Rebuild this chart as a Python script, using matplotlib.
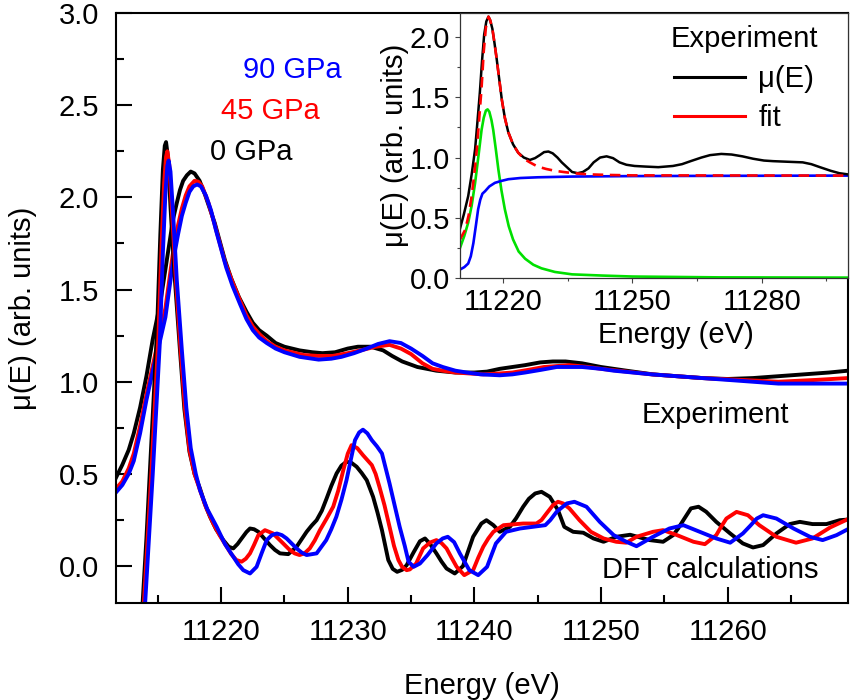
import matplotlib
matplotlib.use("Agg")
import matplotlib.pyplot as plt
from matplotlib.lines import Line2D
from matplotlib.ticker import MultipleLocator, FormatStrFormatter

plt.rcParams['font.family'] = ['Liberation Sans', 'DejaVu Sans']
plt.rcParams['font.size'] = 21

# ---- main panel: experiment (0, 45, 90 GPa) ----
exp0_E = [11211.7, 11212.2, 11212.7, 11213.1, 11213.6, 11214.1, 11214.6, 11215.2, 11215.8, 11216.2,
          11216.5, 11216.75, 11217.0, 11217.3, 11217.6, 11217.9, 11218.3, 11218.7, 11219.1, 11219.5,
          11219.9, 11220.3, 11220.8, 11221.4, 11222.0, 11222.5, 11223.0, 11223.6, 11224.3, 11225.0,
          11226.2, 11227.2, 11228.0, 11229.0, 11230.0, 11230.8, 11231.8, 11232.8, 11233.5, 11234.3,
          11235.5, 11237.0, 11238.5, 11240.0, 11241.0, 11242.0, 11244.0, 11245.2, 11246.2, 11247.2,
          11248.5, 11250.0, 11252.0, 11254.1, 11256.0, 11258.0, 11260.0, 11262.0, 11264.0, 11266.0,
          11268.0, 11269.5]
exp0_mu = [0.48, 0.55, 0.63, 0.72, 0.86, 1.03, 1.23, 1.43, 1.70, 1.88,
           1.97, 2.04, 2.09, 2.12, 2.14, 2.13, 2.09, 2.02, 1.94, 1.86,
           1.76, 1.66, 1.56, 1.46, 1.38, 1.32, 1.28, 1.25, 1.21, 1.19,
           1.17, 1.16, 1.155, 1.16, 1.18, 1.19, 1.19, 1.17, 1.14, 1.11,
           1.08, 1.06, 1.05, 1.05, 1.055, 1.07, 1.09, 1.105, 1.11, 1.11,
           1.10, 1.08, 1.06, 1.04, 1.03, 1.02, 1.015, 1.02, 1.03, 1.04,
           1.05, 1.06]

exp45_E = [11211.7, 11212.2, 11212.7, 11213.1, 11213.6, 11214.1, 11214.8, 11215.2, 11215.6, 11215.9,
           11216.2, 11216.6, 11216.9, 11217.2, 11217.5, 11217.9, 11218.2, 11218.5, 11219.0, 11219.5,
           11219.9, 11220.3, 11220.9, 11221.5, 11222.0, 11222.5, 11223.0, 11223.6, 11224.3, 11225.0,
           11226.5, 11227.6, 11228.8, 11230.0, 11231.0, 11232.2, 11233.3, 11234.2, 11235.0, 11235.9,
           11236.7, 11237.5, 11238.5, 11240.7, 11242.0, 11243.0, 11244.3, 11245.5, 11247.5, 11249.0,
           11250.0, 11252.0, 11254.0, 11256.0, 11258.0, 11261.0, 11264.0, 11267.0, 11269.5]
exp45_mu = [0.42, 0.46, 0.53, 0.61, 0.76, 0.93, 1.15, 1.27, 1.40, 1.55,
            1.70, 1.85, 1.94, 2.01, 2.06, 2.09, 2.085, 2.06, 1.97, 1.85,
            1.75, 1.65, 1.54, 1.44, 1.36, 1.30, 1.26, 1.22, 1.19, 1.17,
            1.145, 1.14, 1.14, 1.155, 1.17, 1.19, 1.20, 1.18, 1.15, 1.10,
            1.07, 1.06, 1.05, 1.04, 1.045, 1.05, 1.065, 1.08, 1.09, 1.08,
            1.07, 1.055, 1.04, 1.03, 1.02, 1.01, 1.00, 1.01, 1.02]

exp90_E = [11211.7, 11212.2, 11212.7, 11213.1, 11213.6, 11214.1, 11214.8, 11215.2, 11215.6, 11215.9,
           11216.2, 11216.6, 11216.9, 11217.2, 11217.5, 11217.8, 11218.1, 11218.4, 11218.8, 11219.2,
           11219.6, 11220.0, 11220.4, 11220.9, 11221.5, 11222.0, 11222.5, 11223.0, 11223.6, 11224.3,
           11225.0, 11226.2, 11227.7, 11228.7, 11229.5, 11230.5, 11231.5, 11232.4, 11233.3, 11234.2,
           11235.0, 11235.9, 11236.7, 11237.5, 11238.5, 11239.4, 11240.5, 11242.0, 11243.0, 11244.0,
           11245.3, 11246.5, 11248.5, 11250.0, 11251.0, 11254.0, 11256.0, 11258.0, 11261.0, 11264.0,
           11267.0, 11269.5]
exp90_mu = [0.40, 0.44, 0.50, 0.57, 0.72, 0.90, 1.12, 1.23, 1.35, 1.50,
            1.65, 1.80, 1.90, 1.97, 2.03, 2.06, 2.07, 2.06, 2.01, 1.93,
            1.82, 1.72, 1.62, 1.52, 1.42, 1.34, 1.28, 1.24, 1.21, 1.18,
            1.16, 1.135, 1.12, 1.125, 1.135, 1.155, 1.18, 1.205, 1.22, 1.21,
            1.18, 1.14, 1.10, 1.08, 1.06, 1.05, 1.04, 1.035, 1.04, 1.05,
            1.065, 1.08, 1.08, 1.07, 1.06, 1.04, 1.03, 1.02, 1.005, 0.99,
            0.99, 0.99]

# ---- main panel: DFT calculations ----
dft0_E = [11213.5, 11213.8, 11214.1, 11214.4, 11214.7, 11214.95, 11215.2, 11215.4, 11215.55, 11215.65,
          11215.8, 11216.0, 11216.3, 11216.75, 11217.1, 11217.5, 11217.9, 11218.33, 11218.7, 11219.12,
          11219.6, 11220.17, 11220.6, 11220.96, 11221.3, 11221.62, 11222.0, 11222.28, 11222.6, 11222.94,
          11223.4, 11223.86, 11224.25, 11224.65, 11225.3, 11225.96, 11226.35, 11226.75, 11227.15, 11227.54,
          11227.95, 11228.33, 11228.7, 11229.12, 11229.5, 11229.9, 11230.3, 11230.7, 11231.1, 11231.5,
          11232.0, 11232.35, 11232.7, 11233.2, 11233.55, 11233.9, 11234.3, 11234.65, 11235.2, 11235.7,
          11236.1, 11236.5, 11237.0, 11237.4, 11237.8, 11238.45, 11239.1, 11239.5, 11239.9, 11240.55,
          11240.95, 11241.5, 11242.0, 11242.8, 11243.3, 11243.85, 11244.3, 11244.8, 11245.3, 11245.95,
          11246.6, 11247.1, 11247.8, 11248.6, 11249.4, 11250.2, 11251.2, 11252.3, 11253.85, 11254.9,
          11255.7, 11256.1, 11256.5, 11257.1, 11257.7, 11258.3, 11259.1, 11260.2, 11261.2, 11262.0,
          11262.8, 11263.85, 11264.9, 11265.7, 11266.7, 11267.8, 11268.85, 11269.6]
dft0_mu = [-0.45, -0.2, 0.15, 0.55, 0.95, 1.3, 1.8, 2.15, 2.28, 2.30,
           2.22, 1.95, 1.6, 1.17, 0.85, 0.62, 0.50, 0.421, 0.34, 0.268,
           0.20, 0.141, 0.105, 0.096, 0.12, 0.150, 0.185, 0.204, 0.200, 0.186,
           0.150, 0.114, 0.088, 0.069, 0.065, 0.105, 0.145, 0.186, 0.220, 0.249,
           0.300, 0.367, 0.435, 0.503, 0.545, 0.566, 0.560, 0.539, 0.505, 0.466,
           0.376, 0.290, 0.195, 0.033, -0.015, -0.031, -0.020, 0.005, 0.075, 0.135,
           0.150, 0.120, 0.069, 0.025, -0.013, -0.040, 0.0, 0.080, 0.159, 0.231,
           0.249, 0.222, 0.186, 0.213, 0.260, 0.322, 0.365, 0.394, 0.403, 0.376,
           0.304, 0.213, 0.186, 0.181, 0.150, 0.132, 0.159, 0.170, 0.141, 0.132,
           0.168, 0.205, 0.249, 0.313, 0.322, 0.295, 0.240, 0.177, 0.123, 0.101,
           0.114, 0.177, 0.228, 0.240, 0.228, 0.228, 0.249, 0.253]

dft45_E = [11213.6, 11213.9, 11214.2, 11214.5, 11214.8, 11215.05, 11215.3, 11215.5, 11215.65, 11215.75,
           11215.9, 11216.1, 11216.4, 11216.8, 11217.15, 11217.5, 11217.9, 11218.33, 11218.8, 11219.38,
           11219.9, 11220.44, 11220.8, 11221.2, 11221.62, 11221.95, 11222.28, 11222.6, 11222.94, 11223.46,
           11224.1, 11224.5, 11224.9, 11225.35, 11225.8, 11226.2, 11226.6, 11227.0, 11227.4, 11227.8,
           11228.35, 11228.85, 11229.25, 11229.65, 11230.0, 11230.3, 11230.75, 11231.2, 11231.9, 11232.2,
           11232.5, 11232.9, 11233.3, 11233.65, 11234.0, 11234.3, 11234.65, 11234.9, 11235.4, 11235.95,
           11236.5, 11237.0, 11237.4, 11237.8, 11238.2, 11238.6, 11239.2, 11239.9, 11240.3, 11240.7,
           11241.1, 11241.5, 11242.3, 11243.85, 11244.9, 11245.3, 11245.7, 11246.2, 11246.6, 11247.0,
           11247.5, 11248.3, 11249.2, 11250.2, 11251.2, 11252.0, 11252.8, 11254.1, 11254.9, 11256.0,
           11257.3, 11258.2, 11259.1, 11259.5, 11259.9, 11260.7, 11261.6, 11262.5, 11263.85, 11265.4,
           11266.7, 11268.1, 11269.6]
dft45_mu = [-0.45, -0.2, 0.15, 0.52, 0.92, 1.25, 1.75, 2.08, 2.22, 2.25,
            2.18, 1.95, 1.58, 1.17, 0.85, 0.63, 0.50, 0.412, 0.32, 0.231,
            0.165, 0.105, 0.065, 0.033, 0.024, 0.040, 0.069, 0.115, 0.168, 0.195,
            0.177, 0.150, 0.123, 0.092, 0.069, 0.060, 0.070, 0.096, 0.140, 0.195,
            0.260, 0.322, 0.410, 0.521, 0.610, 0.656, 0.640, 0.602, 0.548, 0.500,
            0.430, 0.330, 0.213, 0.110, 0.033, -0.005, -0.022, -0.018, 0.014, 0.096,
            0.128, 0.141, 0.125, 0.096, 0.045, -0.004, -0.049, -0.022, 0.045, 0.105,
            0.150, 0.186, 0.222, 0.231, 0.231, 0.250, 0.286, 0.330, 0.349, 0.340,
            0.313, 0.249, 0.186, 0.150, 0.132, 0.127, 0.159, 0.186, 0.195, 0.168,
            0.132, 0.119, 0.168, 0.215, 0.258, 0.294, 0.276, 0.222, 0.159, 0.127,
            0.150, 0.210, 0.258]

dft90_E = [11213.7, 11214.0, 11214.3, 11214.6, 11214.9, 11215.15, 11215.4, 11215.6, 11215.75, 11215.85,
           11216.0, 11216.2, 11216.5, 11216.9, 11217.25, 11217.6, 11218.0, 11218.33, 11218.9, 11219.65,
           11220.3, 11220.96, 11221.35, 11221.75, 11222.28, 11222.8, 11223.2, 11223.6, 11224.0, 11224.4,
           11224.8, 11225.17, 11225.96, 11226.35, 11226.75, 11227.54, 11228.3, 11228.7, 11229.1, 11229.5,
           11229.9, 11230.25, 11230.57, 11230.9, 11231.2, 11231.55, 11231.9, 11232.3, 11232.7, 11233.3,
           11233.7, 11234.1, 11234.5, 11234.8, 11235.2, 11235.7, 11236.3, 11237.0, 11237.5, 11237.9,
           11238.4, 11238.85, 11239.6, 11240.3, 11241.0, 11241.35, 11241.7, 11242.5, 11243.6, 11244.6,
           11245.6, 11246.0, 11246.5, 11247.3, 11247.9, 11248.85, 11249.9, 11251.0, 11252.0, 11252.8,
           11254.1, 11255.4, 11256.5, 11257.8, 11259.1, 11260.2, 11261.2, 11261.8, 11262.3, 11262.8,
           11263.85, 11265.2, 11266.5, 11267.5, 11268.6, 11269.6]
dft90_mu = [-0.45, -0.2, 0.15, 0.50, 0.88, 1.2, 1.7, 2.02, 2.17, 2.20,
            2.14, 1.92, 1.55, 1.17, 0.86, 0.64, 0.50, 0.412, 0.31, 0.213,
            0.120, 0.051, 0.010, -0.022, -0.040, -0.004, 0.070, 0.141, 0.168, 0.177,
            0.168, 0.150, 0.096, 0.074, 0.060, 0.069, 0.141, 0.200, 0.268, 0.360,
            0.466, 0.580, 0.683, 0.725, 0.740, 0.720, 0.683, 0.650, 0.611, 0.448,
            0.330, 0.213, 0.110, 0.024, -0.004, 0.014, 0.060, 0.123, 0.150, 0.159,
            0.130, 0.069, -0.022, -0.049, -0.004, 0.060, 0.123, 0.186, 0.204, 0.213,
            0.222, 0.250, 0.295, 0.340, 0.349, 0.322, 0.240, 0.168, 0.132, 0.108,
            0.159, 0.204, 0.222, 0.186, 0.150, 0.127, 0.177, 0.220, 0.258, 0.276,
            0.258, 0.204, 0.159, 0.141, 0.168, 0.204]

# ---- inset: experiment, fit and its two components ----
in_mu_E = [11210.0, 11210.9, 11211.9, 11212.7, 11213.5, 11214.0, 11214.6, 11215.1, 11215.6, 11216.1,
           11216.6, 11217.0, 11217.5, 11218.0, 11218.5, 11219.1, 11219.7, 11220.4, 11221.2, 11222.3,
           11223.5, 11224.8, 11226.2, 11227.4, 11228.5, 11229.5, 11230.5, 11231.5, 11232.6, 11233.6,
           11234.8, 11236.0, 11237.3, 11238.5, 11239.8, 11241.0, 11242.5, 11244.0, 11245.5, 11247.0,
           11248.6, 11250.5, 11253.0, 11256.0, 11259.4, 11261.5, 11263.5, 11266.0, 11268.0, 11270.6,
           11273.0, 11275.5, 11278.0, 11280.5, 11282.6, 11286.0, 11289.5, 11291.5, 11293.5, 11296.0,
           11298.0, 11300.0]
in_mu = [0.41, 0.53, 0.68, 0.86, 1.07, 1.28, 1.54, 1.80, 2.02, 2.13,
         2.17, 2.14, 2.07, 1.95, 1.82, 1.65, 1.48, 1.33, 1.21, 1.11,
         1.04, 1.00, 0.98, 0.995, 1.02, 1.045, 1.05, 1.035, 1.00, 0.96,
         0.92, 0.88, 0.87, 0.88, 0.91, 0.96, 1.00, 1.01, 0.995, 0.96,
         0.94, 0.93, 0.925, 0.92, 0.93, 0.945, 0.97, 1.00, 1.02, 1.03,
         1.025, 1.01, 0.99, 0.975, 0.97, 0.965, 0.96, 0.945, 0.92, 0.89,
         0.87, 0.86]

in_fit_E = [11210.0, 11211.2, 11212.0, 11212.7, 11213.3, 11213.9, 11214.4, 11215.0, 11215.5, 11216.0,
            11216.6, 11217.0, 11217.5, 11218.0, 11218.5, 11219.1, 11219.7, 11220.4, 11221.2, 11222.3,
            11223.5, 11224.8, 11226.2, 11228.0, 11230.0, 11232.0, 11234.0, 11236.3, 11240.0, 11245.0,
            11250.0, 11300.0]
in_fit = [0.32, 0.40, 0.52, 0.68, 0.86, 1.07, 1.30, 1.58, 1.88, 2.08,
          2.17, 2.14, 2.07, 1.95, 1.82, 1.65, 1.48, 1.33, 1.21, 1.11,
          1.04, 0.99, 0.96, 0.925, 0.905, 0.89, 0.88, 0.87, 0.86, 0.855,
          0.852, 0.85]

in_step_E = [11210.0, 11211.0, 11211.9, 11212.5, 11213.1, 11213.7, 11214.2, 11214.7, 11215.2, 11215.8,
             11216.8, 11218.1, 11219.5, 11221.2, 11224.0, 11228.1, 11236.0, 11250.0, 11270.0, 11300.0]
in_step = [0.07, 0.09, 0.12, 0.18, 0.29, 0.44, 0.57, 0.65, 0.70, 0.72,
           0.76, 0.79, 0.805, 0.82, 0.83, 0.836, 0.842, 0.846, 0.848, 0.85]

in_peak_E = [11210.0, 11211.0, 11211.9, 11212.7, 11213.5, 11214.3, 11215.0, 11215.5, 11216.0, 11216.4,
             11216.8, 11217.3, 11217.7, 11218.3, 11218.9, 11219.6, 11220.4, 11221.3, 11222.3, 11223.6,
             11225.1, 11227.0, 11228.9, 11232.0, 11236.0, 11243.0, 11250.0, 11270.0, 11300.0]
in_peak = [0.25, 0.35, 0.46, 0.60, 0.79, 1.02, 1.23, 1.33, 1.39, 1.40,
           1.38, 1.31, 1.23, 1.07, 0.90, 0.73, 0.57, 0.43, 0.32, 0.22,
           0.16, 0.11, 0.08, 0.05, 0.03, 0.02, 0.012, 0.005, 0.003]

fig = plt.figure(figsize=(8.5, 7), dpi=100)
ax = fig.add_axes([0.1365, 0.1386, 0.8611, 0.8428])

lw = 2.8
for E, mu, c in [(exp0_E, exp0_mu, 'black'), (exp45_E, exp45_mu, 'red'), (exp90_E, exp90_mu, 'blue'),
                 (dft0_E, dft0_mu, 'black'), (dft45_E, dft45_mu, 'red'), (dft90_E, dft90_mu, 'blue')]:
    ax.plot(E, mu, color=c, lw=lw, solid_joinstyle='round')

ax.set_xlim(11211.7, 11269.5)
ax.set_ylim(-0.2, 3.0)
ax.xaxis.set_major_locator(MultipleLocator(10))
ax.xaxis.set_minor_locator(MultipleLocator(5))
ax.yaxis.set_major_locator(MultipleLocator(0.5))
ax.yaxis.set_minor_locator(MultipleLocator(0.25))
ax.yaxis.set_major_formatter(FormatStrFormatter('%.1f'))
ax.tick_params(which='both', direction='in', width=1.5, top=False, right=False)
ax.tick_params(which='major', length=11.5)
ax.tick_params(which='minor', length=6)
ax.tick_params(axis='x', which='major', pad=10.5)
ax.tick_params(axis='y', which='major', pad=12)
for s in ax.spines.values():
    s.set_linewidth(1.5)
ax.set_xlabel('Energy (eV)', labelpad=19)
ax.set_ylabel('μ(E) (arb. units)', labelpad=16)

ax.text(11225.6, 2.69, '90 GPa', color='blue', ha='center', va='center')
ax.text(11223.9, 2.47, '45 GPa', color='red', ha='center', va='center')
ax.text(11222.4, 2.245, '0 GPa', color='black', ha='center', va='center')
ax.text(11259.0, 0.82, 'Experiment', ha='center', va='center')
ax.text(11258.6, -0.02, 'DFT calculations', ha='center', va='center')

# ---- inset ----
axi = fig.add_axes([0.5412, 0.6029, 0.4564, 0.3785])
axi.set_facecolor('white')
axi.plot(in_peak_E, in_peak, color='#00e000', lw=1.9)
axi.plot(in_step_E, in_step, color='blue', lw=1.9)
axi.plot(in_mu_E, in_mu, color='black', lw=1.8)
axi.plot(in_fit_E, in_fit, color='red', lw=1.9, dashes=(4, 2.5))
axi.set_xlim(11210, 11300)
axi.set_ylim(0, 2.2)
axi.xaxis.set_major_locator(MultipleLocator(30))
axi.xaxis.set_minor_locator(MultipleLocator(15))
axi.yaxis.set_major_locator(MultipleLocator(0.5))
axi.yaxis.set_minor_locator(MultipleLocator(0.25))
axi.yaxis.set_major_formatter(FormatStrFormatter('%.1f'))
axi.tick_params(which='both', direction='out', width=0.8, color='#444444')
axi.tick_params(which='major', length=3.5, pad=3.5)
axi.tick_params(which='minor', length=2.5)
for s in axi.spines.values():
    s.set_linewidth(0.9)
    s.set_color('#333333')
axi.set_xlabel('Energy (eV)')
axi.xaxis.set_label_coords(0.557, -0.162)
axi.set_ylabel('μ(E) (arb. units)', labelpad=1)

handles = [Line2D([], [], color='black', lw=2.2), Line2D([], [], color='red', lw=2.2)]
axi.legend(handles, ['μ(E)', 'fit'], title='Experiment', frameon=False,
           loc='upper right', bbox_to_anchor=(0.975, 1.03), handlelength=2.45,
           handletextpad=0.45, labelspacing=0.39, borderpad=0.2,
           title_fontsize=21, fontsize=21)

fig.savefig('out.png', dpi=100)
